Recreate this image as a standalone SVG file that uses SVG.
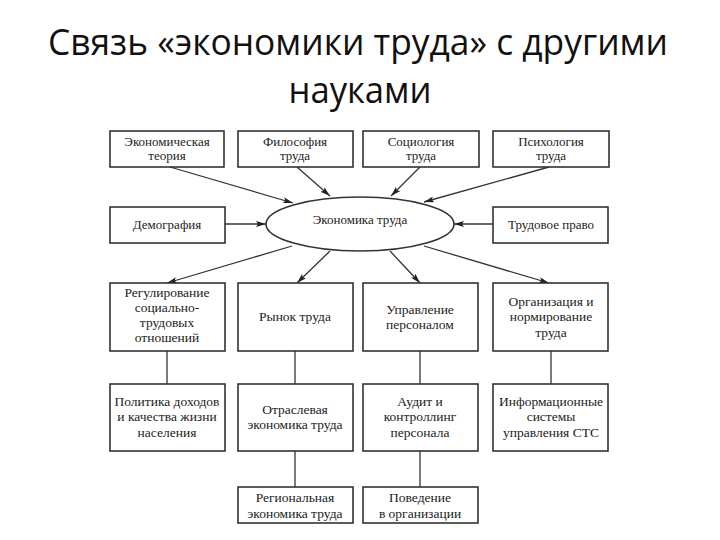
<svg xmlns="http://www.w3.org/2000/svg" width="720" height="540" viewBox="0 0 720 540">
<style>
.title{font-family:"Open Sans","Noto Sans",sans-serif;font-size:36px;fill:#111;text-anchor:middle}
.box{fill:#fff;stroke:#333;stroke-width:1.6}
.t{font-family:"Liberation Serif","Times New Roman",serif;font-size:13.5px;fill:#222;text-anchor:middle}
.ts{font-family:"Liberation Serif","Times New Roman",serif;font-size:13px;fill:#222;text-anchor:middle}
.c{stroke:#333;stroke-width:1.3;fill:none}
.a{marker-end:url(#arr)}
</style>
<defs>
<marker id="arr" viewBox="0 0 10 6" refX="10" refY="3" markerWidth="10" markerHeight="6" markerUnits="userSpaceOnUse" orient="auto">
<path d="M0,0 L10,3 L0,6 L2,3 Z" fill="#222"/>
</marker>
</defs>
<rect width="720" height="540" fill="#fff"/>
<g id="title">
<text class="title" x="358" y="55" textLength="620" lengthAdjust="spacingAndGlyphs">Связь «экономики труда» с другими</text>
<text class="title" x="360" y="103" textLength="143" lengthAdjust="spacingAndGlyphs">науками</text>
</g>
<g id="connectors">
<line class="c a" x1="170" y1="167" x2="293" y2="203"/>
<line class="c a" x1="297" y1="167" x2="330" y2="196"/>
<line class="c a" x1="420" y1="167" x2="391" y2="196"/>
<line class="c a" x1="549" y1="167" x2="424" y2="202"/>
<line class="c a" x1="225" y1="224" x2="266" y2="224"/>
<line class="c a" x1="493" y1="224" x2="454" y2="224"/>
<line class="c a" x1="292" y1="246" x2="167" y2="283"/>
<line class="c a" x1="330" y1="251" x2="297" y2="283"/>
<line class="c a" x1="390" y1="251" x2="420" y2="283"/>
<line class="c a" x1="424" y1="246" x2="549" y2="283"/>
<line class="c" x1="167" y1="351" x2="167" y2="384"/>
<line class="c" x1="295" y1="351" x2="295" y2="384"/>
<line class="c" x1="420" y1="351" x2="420" y2="384"/>
<line class="c" x1="551" y1="351" x2="551" y2="384"/>
<line class="c" x1="295" y1="451" x2="295" y2="487"/>
<line class="c" x1="420" y1="451" x2="420" y2="487"/>
</g>
<g id="center">
<ellipse cx="360" cy="224" rx="94" ry="27" fill="#fff" stroke="#333" stroke-width="1.6"/>
<text class="ts" x="360" y="224">Экономика труда</text>
</g>
<g id="econ-theory"><rect class="box" x="110" y="131" width="114" height="36"/>
<text class="ts" x="167" y="146">Экономическая</text><text class="ts" x="167" y="160">теория</text></g>
<g id="philosophy"><rect class="box" x="238" y="131" width="115" height="36"/>
<text class="ts" x="295" y="146">Философия</text><text class="ts" x="295" y="160">труда</text></g>
<g id="sociology"><rect class="box" x="363" y="131" width="116" height="36"/>
<text class="ts" x="421" y="146">Социология</text><text class="ts" x="421" y="160">труда</text></g>
<g id="psychology"><rect class="box" x="493" y="131" width="116" height="36"/>
<text class="ts" x="551" y="146">Психология</text><text class="ts" x="551" y="160">труда</text></g>
<g id="demography"><rect class="box" x="110" y="207" width="115" height="36"/>
<text class="ts" x="167" y="229">Демография</text></g>
<g id="labor-law"><rect class="box" x="493" y="207" width="115" height="36"/>
<text class="ts" x="551" y="229">Трудовое право</text></g>
<g id="regulation"><rect class="box" x="110" y="283" width="115" height="68"/>
<text class="t" x="167" y="297">Регулирование</text><text class="t" x="167" y="312">социально-</text><text class="t" x="167" y="327">трудовых</text><text class="t" x="167" y="342">отношений</text></g>
<g id="labor-market"><rect class="box" x="238" y="283" width="115" height="68"/>
<text class="t" x="295" y="321">Рынок труда</text></g>
<g id="hr-management"><rect class="box" x="363" y="283" width="115" height="68"/>
<text class="t" x="420" y="314">Управление</text><text class="t" x="420" y="329">персоналом</text></g>
<g id="organization"><rect class="box" x="493" y="283" width="115" height="68"/>
<text class="t" x="551" y="306">Организация и</text><text class="t" x="551" y="321">нормирование</text><text class="t" x="551" y="337">труда</text></g>
<g id="income-policy"><rect class="box" x="110" y="384" width="115" height="67"/>
<text class="t" x="167" y="406">Политика доходов</text><text class="t" x="167" y="421">и качества жизни</text><text class="t" x="167" y="437">населения</text></g>
<g id="sector-economics"><rect class="box" x="238" y="384" width="115" height="67"/>
<text class="t" x="295" y="414">Отраслевая</text><text class="t" x="295" y="429">экономика труда</text></g>
<g id="audit"><rect class="box" x="363" y="384" width="115" height="67"/>
<text class="t" x="420" y="406">Аудит и</text><text class="t" x="420" y="421">контроллинг</text><text class="t" x="420" y="437">персонала</text></g>
<g id="info-systems"><rect class="box" x="493" y="384" width="115" height="67"/>
<text class="t" x="551" y="406">Информационные</text><text class="t" x="551" y="421">системы</text><text class="t" x="551" y="437">управления СТС</text></g>
<g id="regional"><rect class="box" x="238" y="487" width="115" height="36"/>
<text class="t" x="295" y="502">Региональная</text><text class="t" x="295" y="518">экономика труда</text></g>
<g id="behavior"><rect class="box" x="363" y="487" width="115" height="36"/>
<text class="t" x="420" y="502">Поведение</text><text class="t" x="420" y="518">в организации</text></g>
</svg>
